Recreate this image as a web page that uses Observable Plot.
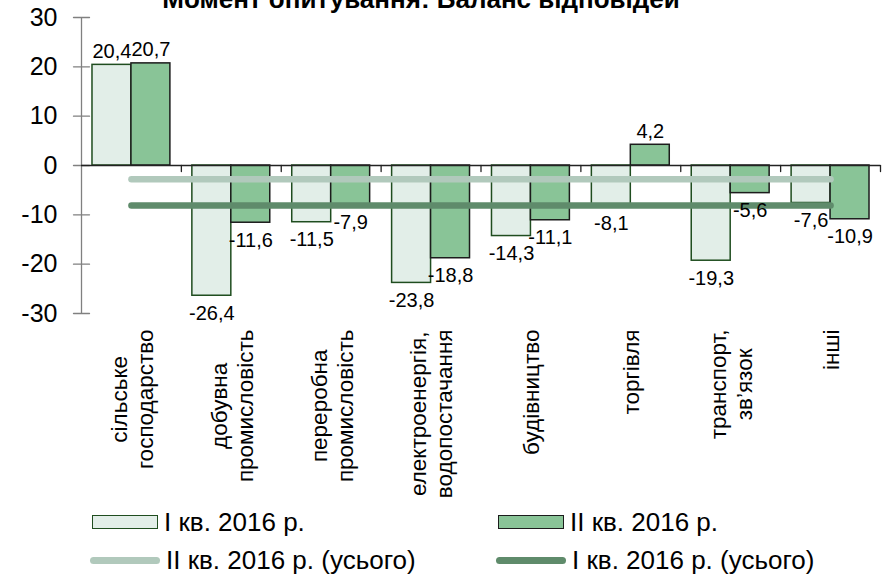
<!DOCTYPE html>
<html>
<head>
<meta charset="utf-8">
<script src="https://cdn.jsdelivr.net/npm/d3@7"></script>
<script src="https://cdn.jsdelivr.net/npm/@observablehq/plot@0.6"></script>
<style>
  html, body { margin: 0; padding: 0; background: #fff; }
  body { width: 887px; height: 576px; overflow: hidden; position: relative; font-family: "Liberation Sans", Arial, sans-serif; }
  #chart svg { display: block; }
  #legend { position: absolute; left: 90px; top: 503px; display: grid; grid-template-columns: 406px 330px; grid-auto-rows: 38px; }
  .item { display: flex; align-items: center; font-size: 26px; color: #000; white-space: nowrap; }
  .sw { width: 66px; height: 14px; box-sizing: border-box; margin-right: 6px; margin-left: 2px; }
  .ln { width: 70px; height: 7px; border-radius: 4px; margin-right: 6px; }
</style>
</head>
<body>
<div id="chart"></div>
<div id="legend"></div>
<script>
const title = "Момент опитування: Баланс відповідей";
const categories = ["сільське\nгосподарство", "добувна\nпромисловість", "переробна\nпромисловість", "електроенергія,\nводопостачання", "будівництво", "торгівля", "транспорт,\nзв’язок", "інші"];
const q1 = [20.4, -26.4, -11.5, -23.8, -14.3, -8.1, -19.3, -7.6];
const q2 = [20.7, -11.6, -7.9, -18.8, -11.1, 4.2, -5.6, -10.9];
const q2Total = -2.8;
const q1Total = -8.1;
const yTicks = [-30, -20, -10, 0, 10, 20, 30];
const seriesNames = ["I кв. 2016 р.", "II кв. 2016 р.", "II кв. 2016 р. (усього)", "I кв. 2016 р. (усього)"];

const FONT = "Liberation Sans, Arial, sans-serif";
const c1Fill = "#e2eee8", c1Stroke = "#1f4d1f";
const c2Fill = "#89c497", c2Stroke = "#1c1c1c";
const lightLine = "#b1c9bc", darkLine = "#5f8b6b";

const fmt = d => d.toFixed(1).replace(".", ",");
const n = categories.length;
const bw = 0.39;

const tickShape = { draw(ctx, l) { ctx.moveTo(0, 0); ctx.lineTo(0, -l); } };

// measure label widths for vertical placement
const LABEL_FS = 22.5;
const cv = document.createElement("canvas").getContext("2d");
cv.font = `${LABEL_FS}px ${FONT}`;
const maxW = s => Math.max(...s.split("\n").map(t => cv.measureText(t).width));

const boundaries = d3.range(n).map(i => i + 0.5);

const labelMarks = categories.map((c, i) => Plot.text([c], {
  x: () => i, y: () => -30, text: d => d,
  rotate: -90, textAnchor: "middle", lineAnchor: "middle",
  fontSize: LABEL_FS, lineHeight: 1.16, dy: 16 + maxW(c) / 2, fill: "#000"
}));

const chart = Plot.plot({
  width: 887, height: 500,
  marginLeft: 81, marginRight: 7, marginTop: 17, marginBottom: 187,
  style: { fontFamily: FONT, background: "transparent", overflow: "visible" },
  x: { type: "linear", domain: [-0.5, n - 0.5], axis: null },
  y: { domain: [-30, 30], axis: null },
  marks: [
    // y axis
    Plot.ruleX([-0.5], { y1: -30, y2: 30, stroke: "#808080", strokeWidth: 1.3 }),
    Plot.vector(yTicks, { x: () => -0.5, y: d => d, length: 16, rotate: 90, anchor: "middle", shape: tickShape, stroke: "#808080", strokeWidth: 1.3 }),
    Plot.text(yTicks, { x: () => -0.5, y: d => d, text: d => String(d), textAnchor: "end", dx: -24, fontSize: 25, fill: "#000" }),
    // bars
    Plot.rectY(q1, { x1: (d, i) => i - bw, x2: (d, i) => i, y1: 0, y2: d => d, fill: c1Fill, stroke: c1Stroke, strokeWidth: 1.5 }),
    Plot.rectY(q2, { x1: (d, i) => i, x2: (d, i) => i + bw, y1: 0, y2: d => d, fill: c2Fill, stroke: c2Stroke, strokeWidth: 1.5 }),
    // x axis
    Plot.ruleY([0], { x1: -0.5, x2: n - 0.5, stroke: "#222", strokeWidth: 1.3 }),
    Plot.vector(boundaries, { x: d => d, y: () => 0, length: 6, rotate: 180, anchor: "start", shape: tickShape, stroke: "#222", strokeWidth: 1.3 }),
    // total lines
    Plot.line([0, n - 1], { x: d => d, y: () => q2Total, stroke: lightLine, strokeWidth: 6.5, strokeLinecap: "round" }),
    Plot.line([0, n - 1], { x: d => d, y: () => q1Total, stroke: darkLine, strokeWidth: 6.5, strokeLinecap: "round" }),
    // data labels
    Plot.text(q1, { filter: d => d >= 0, x: (d, i) => i - bw / 2, y: d => d, text: fmt, lineAnchor: "bottom", dy: -7, fontSize: 20, fill: "#000" }),
    Plot.text(q2, { filter: d => d >= 0, x: (d, i) => i + bw / 2, y: d => d, text: fmt, lineAnchor: "bottom", dy: -7, fontSize: 20, fill: "#000" }),
    Plot.text(q1, { filter: d => d < 0, x: (d, i) => i - bw / 2, y: d => d, text: fmt, lineAnchor: "top", dy: 10, fontSize: 20, fill: "#000" }),
    Plot.text(q2, { filter: d => d < 0, x: (d, i) => i + bw / 2, y: d => d, text: fmt, lineAnchor: "top", dy: 10, fontSize: 20, fill: "#000" }),
    // category labels
    ...labelMarks,
    // title (cut off at top as in the reference)
    Plot.text([title], { frameAnchor: "top", text: d => d, lineAnchor: "bottom", dx: -60, dy: -10, fontSize: 26, fontWeight: "bold", fill: "#000" })
  ]
});
document.getElementById("chart").appendChild(chart);

// legend
const legend = document.getElementById("legend");
const items = [
  { name: seriesNames[0], kind: "sw", fill: c1Fill, stroke: c1Stroke },
  { name: seriesNames[1], kind: "sw", fill: c2Fill, stroke: c2Stroke },
  { name: seriesNames[2], kind: "ln", fill: lightLine },
  { name: seriesNames[3], kind: "ln", fill: darkLine }
];
for (const it of items) {
  const div = document.createElement("div");
  div.className = "item";
  const s = document.createElement("span");
  s.className = it.kind;
  s.style.background = it.fill;
  if (it.stroke) s.style.border = `1.5px solid ${it.stroke}`;
  div.appendChild(s);
  div.appendChild(document.createTextNode(it.name));
  legend.appendChild(div);
}
</script>
</body>
</html>
